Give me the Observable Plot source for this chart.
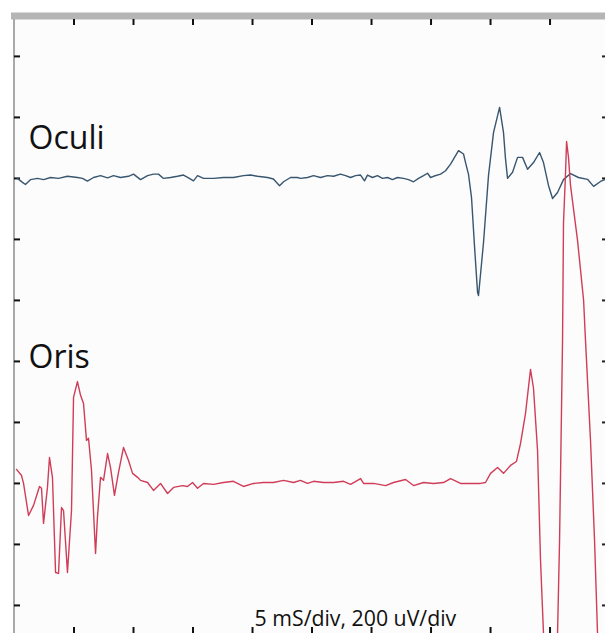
<!DOCTYPE html>
<html>
<head>
<meta charset="utf-8">
<script src="https://cdn.jsdelivr.net/npm/d3@7"></script>
<script src="https://cdn.jsdelivr.net/npm/@observablehq/plot@0.6"></script>
<style>
  html, body { margin: 0; padding: 0; background: #ffffff; }
  #chart { width: 605px; height: 633px; }
</style>
</head>
<body>
<div id="chart"></div>
<script>
// ---- data (time in ms, amplitude in µV relative to each channel baseline) ----
const channelNames = ["Oculi", "Oris"];
const channelOffsets = [1000, 0];        // µV baseline of each trace on the shared scale
const channelColors = ["#38566f", "#cf3d58"];

const oculi = [
  [0.25,0],[0.67,-13],[0.92,-20],[1.34,-4],[1.93,0],[2.44,-4],[3.03,3],[3.70,0],[4.45,7],[5.29,3],
  [5.71,0],[6.13,-9],[6.64,3],[7.23,9],[7.82,2],[8.32,9],[8.91,3],[9.58,7],[10.00,14],[10.59,-4],
  [11.18,9],[11.68,14],[12.10,14],[12.52,0],[13.11,3],[13.70,7],[14.20,11],[14.62,2],[15.04,-8],[15.38,9],
  [15.88,0],[16.72,0],[17.56,3],[18.40,3],[19.24,9],[19.83,11],[20.42,7],[21.26,3],[21.76,-2],[22.27,-24],
  [22.61,-11],[23.19,3],[23.78,3],[24.03,0],[24.62,3],[25.13,9],[25.71,3],[26.30,9],[26.81,7],[27.39,14],
  [27.82,9],[28.24,3],[28.66,9],[29.08,11],[29.41,-8],[29.66,11],[30.08,3],[30.50,9],[30.92,0],[31.34,3],
  [31.76,-4],[32.18,3],[32.69,0],[33.11,-4],[33.53,-11],[33.95,0],[34.37,9],[34.71,17],[34.96,3],[35.21,7],
  [35.80,14],[36.22,25],[36.64,47],[36.89,63],[37.31,91],[37.73,80],[37.90,52],[38.15,13],[38.40,-62],[38.66,-226],
  [38.91,-374],[38.99,-384],[39.41,-210],[39.83,10],[40.25,150],[40.76,233],[41.09,150],[41.26,63],[41.43,0],[41.85,20],
  [42.27,69],[42.69,69],[43.11,30],[43.61,52],[44.12,85],[44.45,52],[44.87,-23],[45.21,-66],[45.63,-46],[46.13,-4],
  [46.72,16],[47.39,3],[48.15,-3],[48.66,-26],[49.24,-10],[49.66,-3]
];

const oris = [
  [0.17,46],[0.59,26],[0.76,0],[1.18,-105],[1.60,-72],[2.10,-10],[2.27,-16],[2.44,-131],[2.77,-13],[2.94,85],
  [3.19,20],[3.45,-292],[3.70,-295],[3.95,-79],[4.12,-89],[4.45,-292],[4.79,-89],[4.96,282],[5.29,334],[5.55,289],
  [5.80,262],[6.05,141],[6.22,148],[6.47,43],[6.81,-230],[6.97,-111],[7.23,20],[7.48,10],[7.82,98],[8.07,52],
  [8.40,-39],[8.74,36],[9.16,118],[9.58,75],[9.92,33],[10.34,20],[10.59,10],[11.18,3],[11.68,-23],[12.27,0],
  [12.86,-33],[13.36,-13],[14.12,-7],[14.54,-10],[14.96,3],[15.38,-16],[15.88,0],[16.72,-3],[17.56,3],[18.40,7],
  [19.24,-10],[20.08,0],[20.92,3],[21.76,3],[22.61,10],[23.45,3],[24.03,10],[24.62,0],[25.13,7],[25.97,3],
  [26.81,3],[27.65,7],[28.24,-3],[29.08,16],[29.33,0],[30.17,0],[31.18,-7],[31.85,3],[32.86,13],[33.53,-7],
  [34.37,3],[35.21,0],[36.05,3],[36.64,16],[37.48,0],[38.32,0],[39.16,0],[39.58,3],[40.00,33],[40.59,52],
  [41.09,33],[41.68,59],[42.18,72],[42.52,131],[42.94,230],[43.36,374],[43.61,312],[43.95,108],[44.20,-252],[44.45,-492],
  [44.96,-777],[45.63,-492],[45.80,-187],[46.05,469],[46.13,853],[46.30,1016],[46.39,1121],[46.55,1069],[46.72,977],[47.31,797],
  [47.82,600],[47.98,469],[48.40,141],[48.74,-187],[48.99,-492],[49.50,-941]
];

const xTicks = [5, 10, 15, 20, 25, 30, 35, 40, 45];                       // ms (5 ms/div)
const yTicks = [-400, -200, 0, 200, 400, 600, 800, 1000, 1200, 1400];     // µV (200 µV/div)
const xDomain = [0, 49.66];
const yDomain = [-492, 1521];

const labels = [
  {text: "Oculi", t: 1.18, v: 1095},
  {text: "Oris",  t: 1.18, v: 377}
];
const caption = [{text: "5 mS/div, 200 uV/div", t: 20.17, v: -466}];

// ---- chart ----
const W = 605, H = 633, mL = 14, mT = 19, mR = 0, mB = 0;
const innerW = W - mL - mR, innerH = H - mT - mB;

const traces = [oculi, oris];
const marks = [
  Plot.frame({fill: "#fcfcfc", stroke: "none"}),
  // gray border (top band and left line)
  Plot.ruleY([yDomain[1]], {stroke: "#b5b5b5", strokeWidth: 7, dy: -3.5, insetLeft: -3}),
  Plot.ruleX([xDomain[0]], {stroke: "#a9a9a9", strokeWidth: 2, dx: -0.5}),
  // inward ticks
  Plot.tickX(xTicks, {x: d => d, stroke: "#111", strokeWidth: 2, insetBottom: innerH - 6}),
  Plot.tickX(xTicks, {x: d => d, stroke: "#111", strokeWidth: 2, insetTop: innerH - 6}),
  Plot.tickY(yTicks, {y: d => d, stroke: "#111", strokeWidth: 2, insetRight: innerW - 6}),
  Plot.tickY(yTicks, {y: d => d, stroke: "#222", strokeWidth: 2, insetLeft: innerW - 3}),
];
traces.forEach((tr, i) => {
  marks.push(Plot.line(tr, {
    x: d => d[0],
    y: d => d[1] + channelOffsets[i],
    stroke: channelColors[i],
    strokeWidth: 1.4,
    curve: "linear",
    clip: true
  }));
});
marks.push(
  Plot.text(labels, {x: "t", y: "v", text: "text", textAnchor: "start", lineAnchor: "bottom",
    fontSize: 32, fill: "#111"}),
  Plot.text(caption, {x: "t", y: "v", text: "text", textAnchor: "start", lineAnchor: "bottom",
    fontSize: 21.3, fill: "#111"})
);

const chart = Plot.plot({
  width: W,
  height: H,
  marginLeft: mL,
  marginTop: mT,
  marginRight: mR,
  marginBottom: mB,
  x: {domain: xDomain, axis: null},
  y: {domain: yDomain, axis: null},
  style: {fontFamily: "'Open Sans', 'Noto Sans', sans-serif", background: "#ffffff", overflow: "hidden"},
  marks
});
document.getElementById("chart").appendChild(chart);
</script>
</body>
</html>
